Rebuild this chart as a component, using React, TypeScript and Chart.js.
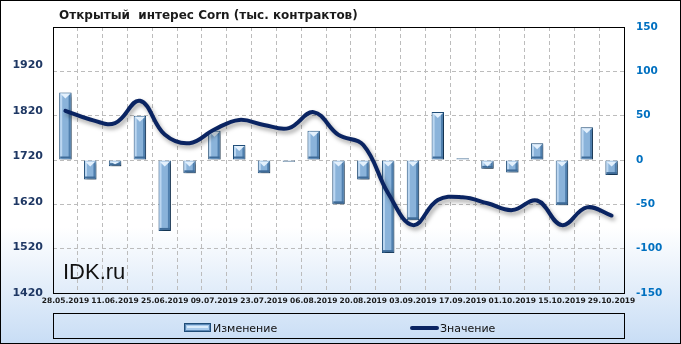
import React, { useEffect, useRef } from 'react';
import { Chart, registerables } from 'chart.js';

Chart.register(...registerables);

const categories = [
  '28.05.2019', '04.06.2019', '11.06.2019', '18.06.2019', '25.06.2019', '02.07.2019',
  '09.07.2019', '16.07.2019', '23.07.2019', '30.07.2019', '06.08.2019', '13.08.2019',
  '20.08.2019', '27.08.2019', '03.09.2019', '10.09.2019', '17.09.2019', '24.09.2019',
  '01.10.2019', '08.10.2019', '15.10.2019', '22.10.2019', '29.10.2019',
];
const changeValues = [76, -22, -7, 50, -80, -15, 33, 17, -15, -2, 33, -50, -22, -105, -68, 54, 2, -10, -14, 19, -51, 37, -17];
const openInterest = [1820, 1801, 1793, 1842, 1768, 1749, 1779, 1800, 1789, 1782, 1817, 1767, 1745, 1639, 1569, 1624, 1630, 1617, 1602, 1623, 1569, 1608, 1590];
const leftTicks = [1420, 1520, 1620, 1720, 1820, 1920];
const rightTicks = [-150, -100, -50, 0, 50, 100, 150];
const leftMin = 1420;
const leftMax = 2004;
const titleText = 'Открытый  интерес Corn (тыс. контрактов)';
const seriesNames = ['Изменение', 'Значение'];
const watermarkText = 'IDK.ru';

const NAVY = '#0a2462';
const FONT = '"DejaVu Sans", Verdana, sans-serif';

const decor = {
  id: 'decor',
  beforeDraw(chart: any) {
    const { ctx, width, height } = chart;
    ctx.save();
    const g = ctx.createLinearGradient(0, 0, 0, height);
    g.addColorStop(0, '#ffffff');
    g.addColorStop(0.66, '#ffffff');
    g.addColorStop(1, '#c8ddf5');
    ctx.fillStyle = g;
    ctx.fillRect(0, 0, width, height);
    ctx.font = `bold 12px ${FONT}`;
    ctx.fillStyle = '#1a1a1a';
    ctx.textBaseline = 'alphabetic';
    ctx.textAlign = 'left';
    ctx.fillText(titleText, 59, 19);
    ctx.restore();
  },
  beforeDatasetsDraw(chart: any) {
    const { ctx, chartArea } = chart;
    ctx.save();
    ctx.font = '22px "Liberation Sans", Arial, sans-serif';
    ctx.fillStyle = '#111111';
    ctx.textBaseline = 'alphabetic';
    ctx.fillText(watermarkText, chartArea.left + 10, chartArea.bottom - 14);
    ctx.restore();
  },
  beforeDatasetDraw(chart: any, args: any) {
    const { ctx } = chart;
    ctx.save();
    if (args.meta.type === 'bar') {
      ctx.shadowColor = 'rgba(0,0,0,0.45)';
      ctx.shadowBlur = 3;
      ctx.shadowOffsetX = 2;
      ctx.shadowOffsetY = 2;
    } else {
      ctx.shadowColor = 'rgba(0,0,0,0.35)';
      ctx.shadowBlur = 4;
      ctx.shadowOffsetX = 2;
      ctx.shadowOffsetY = 3;
    }
  },
  afterDatasetDraw(chart: any, args: any) {
    const { ctx } = chart;
    ctx.restore();
    if (args.meta.type !== 'bar') return;
    ctx.save();
    args.meta.data.forEach((el: any) => {
      const { x, y, base, width } = el.getProps(['x', 'y', 'base', 'width'], true);
      const left = x - width / 2;
      const right = x + width / 2;
      const top = Math.min(y, base);
      const bottom = Math.max(y, base);
      const h = bottom - top;
      if (h < 5) return;
      ctx.fillStyle = '#bcd7f1';
      ctx.fillRect(left + 1, top + 1, 2, h - 2);
      ctx.fillStyle = '#4f7fae';
      ctx.fillRect(right - 3, top + 1, 2, h - 2);
      ctx.fillStyle = '#3f6c99';
      ctx.fillRect(left + 1, bottom - 3, width - 2, 2);
      const d = Math.min(5, h - 3);
      ctx.beginPath();
      ctx.moveTo(left + 1, top + 1);
      ctx.lineTo(right - 1, top + 1);
      ctx.lineTo(x, top + 1 + d);
      ctx.closePath();
      ctx.fillStyle = '#e4f1fd';
      ctx.fill();
    });
    ctx.restore();
  },
  afterDraw(chart: any) {
    const { ctx, chartArea } = chart;
    ctx.save();
    ctx.strokeStyle = '#000';
    ctx.lineWidth = 1;
    ctx.strokeRect(chartArea.left + 0.5, chartArea.top + 0.5, chartArea.right - chartArea.left, chartArea.bottom - chartArea.top);
    const lx = chartArea.left + 0.5;
    const ly = 313.5;
    const lw = chartArea.right - chartArea.left;
    ctx.strokeRect(lx, ly, lw, 25);
    ctx.fillStyle = '#5b88b6';
    ctx.fillRect(184, 323, 27, 9);
    ctx.fillStyle = '#a9cbec';
    ctx.fillRect(186, 325, 23, 5);
    ctx.fillStyle = '#d9ebfb';
    ctx.fillRect(187, 326, 21, 2);
    ctx.strokeStyle = '#1f4d78';
    ctx.strokeRect(184.5, 323.5, 26, 8);
    ctx.beginPath();
    ctx.moveTo(412, 328);
    ctx.lineTo(437, 328);
    ctx.strokeStyle = NAVY;
    ctx.lineWidth = 4;
    ctx.lineCap = 'round';
    ctx.stroke();
    ctx.font = `11px ${FONT}`;
    ctx.fillStyle = '#111';
    ctx.textBaseline = 'alphabetic';
    ctx.fillText(seriesNames[0], 213, 332);
    ctx.fillText(seriesNames[1], 440, 332);
    ctx.lineWidth = 1;
    ctx.strokeStyle = '#000';
    ctx.strokeRect(0.5, 0.5, chart.width - 1, chart.height - 1);
    ctx.restore();
  },
};

export default function App() {
  const ref = useRef<HTMLCanvasElement | null>(null);
  useEffect(() => {
    if (!ref.current) return;
    const chart = new Chart(ref.current, {
      type: 'bar',
      data: {
        labels: categories,
        datasets: [
          {
            type: 'line',
            label: seriesNames[1],
            data: openInterest,
            yAxisID: 'yL',
            borderColor: NAVY,
            borderWidth: 4,
            pointRadius: 0,
            tension: 0.4,
            borderCapStyle: 'round',
            borderJoinStyle: 'round',
            fill: false,
            order: 0,
          } as any,
          {
            type: 'bar',
            label: seriesNames[0],
            data: changeValues,
            yAxisID: 'yR',
            backgroundColor: '#8ab3da',
            borderColor: '#1f4d78',
            borderWidth: 1,
            barPercentage: 0.5,
            categoryPercentage: 1,
            order: 1,
          } as any,
        ],
      },
      options: {
        responsive: false,
        devicePixelRatio: 1,
        animation: false,
        layout: { padding: { top: 27, bottom: 31, left: 0, right: 0 } },
        plugins: { legend: { display: false }, title: { display: false }, tooltip: { enabled: false } },
        scales: {
          x: {
            grid: { display: true, color: '#bcbcbc', drawTicks: false, tickLength: 0 },
            border: { display: false, dash: [4, 3] },
            ticks: {
              autoSkip: false,
              maxRotation: 0,
              minRotation: 0,
              padding: 4,
              color: '#1a1a1a',
              font: { family: FONT, size: 7.5, weight: 'bold' },
              callback: (_v: any, i: number) => (i % 2 === 0 ? categories[i] : ''),
            },
            afterFit: (s: any) => { s.height = 20; },
          },
          yL: {
            position: 'left',
            min: leftMin,
            max: leftMax,
            grid: { display: false, drawTicks: false },
            border: { display: false },
            afterBuildTicks: (s: any) => { s.ticks = leftTicks.map((v) => ({ value: v })); },
            ticks: {
              color: '#1f3864',
              padding: 10,
              font: { family: FONT, size: 11, weight: 'bold' },
              callback: (v: any) => String(v),
            },
            afterFit: (s: any) => { s.width = 53; },
          },
          yR: {
            position: 'right',
            min: -150,
            max: 150,
            grid: { display: true, color: '#bcbcbc', drawTicks: false, tickLength: 0 },
            border: { display: false, dash: [4, 3] },
            afterBuildTicks: (s: any) => { s.ticks = rightTicks.map((v) => ({ value: v })); },
            ticks: {
              color: '#0070c0',
              padding: 12,
              font: { family: FONT, size: 10.5, weight: 'bold' },
              callback: (v: any) => String(v),
            },
            afterFit: (s: any) => { s.width = 57; },
          },
        },
      } as any,
      plugins: [decor],
    });
    return () => chart.destroy();
  }, []);
  return (
    <div style={{ position: 'absolute', left: 0, top: 0, width: 681, height: 344 }}>
      <canvas ref={ref} width={681} height={344} style={{ width: 681, height: 344, display: 'block' }} />
    </div>
  );
}
